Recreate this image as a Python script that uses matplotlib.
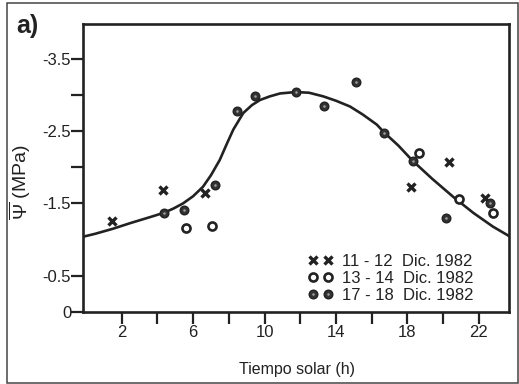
import matplotlib
matplotlib.use("Agg")
import matplotlib.pyplot as plt
from matplotlib.lines import Line2D
from matplotlib.patches import Rectangle

plt.rcParams['font.family'] = ['Liberation Sans', 'DejaVu Sans']
plt.rcParams['mathtext.fontset'] = 'custom'
plt.rcParams['mathtext.rm'] = 'Liberation Sans'
plt.rcParams['mathtext.it'] = 'Liberation Sans'

INK = '#222222'

# 11 - 12 Dic. 1982 (x)
hora_11 = [1.46, 4.31, 6.65, 18.19, 20.35, 22.35]
psi_11 = [-1.26, -1.68, -1.65, -1.73, -2.07, -1.57]

# 13 - 14 Dic. 1982 (open circles)
hora_13 = [5.58, 7.04, 18.66, 20.90, 22.82]
psi_13 = [-1.16, -1.19, -2.20, -1.56, -1.37]

# 17 - 18 Dic. 1982 (dotted circles)
hora_17 = [4.35, 5.47, 7.21, 8.44, 9.47, 11.75, 13.32, 15.13, 16.71, 18.30, 20.17, 22.63]
psi_17 = [-1.37, -1.41, -1.76, -2.78, -2.99, -3.04, -2.85, -3.18, -2.48, -2.09, -1.30, -1.50]

# fitted curve
curva_x = [-0.17, 0.5, 1.5, 2.5, 3.57, 4.35, 4.9, 5.43, 6.0, 6.55, 7.0, 7.49, 7.9, 8.25,
           8.81, 9.3, 9.75, 10.3, 10.87, 11.75, 12.5, 13.29, 14.0, 14.79, 15.5, 16.29,
           16.71, 17.5, 18.30, 19.4, 20.58, 21.7, 22.80, 23.7]
curva_y = [-1.04, -1.08, -1.15, -1.23, -1.31, -1.37, -1.43, -1.50, -1.60, -1.73, -1.89, -2.10,
           -2.33, -2.52, -2.75, -2.86, -2.93, -2.98, -3.02, -3.04, -3.03, -2.98, -2.92, -2.84,
           -2.73, -2.59, -2.48, -2.30, -2.09, -1.84, -1.59, -1.37, -1.18, -1.05]

xticks_major = [2, 6, 10, 14, 18, 22]
xticks_minor = [4, 8, 12, 16, 20]
yticks_major = [-3.5, -2.5, -1.5, -0.5, 0]
ytick_labels = ['-3.5', '-2.5', '-1.5', '-0.5', '0']
yticks_minor = [-3.0, -2.0]

fig = plt.figure(figsize=(5.19, 3.84), dpi=100)
ax = fig.add_axes([83 / 519, 1 - 312 / 384, 426 / 519, 288 / 384])

x_style = dict(ls='none', marker='x', ms=5.5, mew=2.4, color=INK)
o_style = dict(ls='none', marker='o', ms=5.8, mew=1.9, mfc='white', mec=INK)
d_style = dict(ls='none', marker='o', ms=6.2, mew=1, mfc='#333333', mec=INK)
c_style = dict(ls='none', marker='o', ms=1.8, mew=0, mfc='#a0a0a0')

ax.plot(curva_x, curva_y, color=INK, lw=1.9, solid_joinstyle='round', zorder=2)
ax.plot(hora_11, psi_11, zorder=3, **x_style)
ax.plot(hora_13, psi_13, zorder=3, **o_style)
ax.plot(hora_17, psi_17, zorder=3, **d_style)
ax.plot(hora_17, psi_17, zorder=4, **c_style)

ax.set_xlim(-0.17, 23.7)
ax.set_ylim(0, -3.98)

ax.set_xticks(xticks_major)
ax.set_xticks(xticks_minor, minor=True)
ax.set_yticks(yticks_major)
ax.set_yticklabels(ytick_labels)
ax.set_yticks(yticks_minor, minor=True)

for s in ax.spines.values():
    s.set_linewidth(1.9)
    s.set_color(INK)
ax.tick_params(which='both', direction='out', length=8.5, width=1.6, color=INK,
               labelsize=12, labelcolor=INK, pad=1)
ax.tick_params(axis='y', which='both', pad=0)

ax.set_xlabel('Tiempo solar (h)', fontsize=11.5, color=INK)
ax.xaxis.set_label_coords(0.502, -0.175)
ax.set_ylabel(r'$\overline{\Psi}$ (MPa)', fontsize=14, color=INK, va='center')
ax.yaxis.set_label_coords(-0.148, 0.45)

h11 = Line2D([], [], **x_style)
h13 = Line2D([], [], **o_style)
h17a = Line2D([], [], **d_style)
h17b = Line2D([], [], **c_style)
leg = ax.legend([h11, h13, (h17a, h17b)],
                ['11 - 12  Dic. 1982', '13 - 14  Dic. 1982', '17 - 18  Dic. 1982'],
                loc='lower right', bbox_to_anchor=(474 / 519, 1 - 303 / 384),
                bbox_transform=fig.transFigure, frameon=False, numpoints=2,
                handlelength=1.5, handletextpad=0.6, labelspacing=0.12,
                borderpad=0, borderaxespad=0, fontsize=12)
for t in leg.get_texts():
    t.set_color(INK)

fig.text(16 / 519, 1 - 33 / 384, 'a)', fontsize=18, fontweight='bold', color=INK, va='baseline')
fig.patches.append(Rectangle((7 / 519, 1 - 383 / 384), 511 / 519, 380 / 384,
                             transform=fig.transFigure, fill=False, lw=1.1, ec='#444444'))

fig.savefig('out.png', dpi=100)
